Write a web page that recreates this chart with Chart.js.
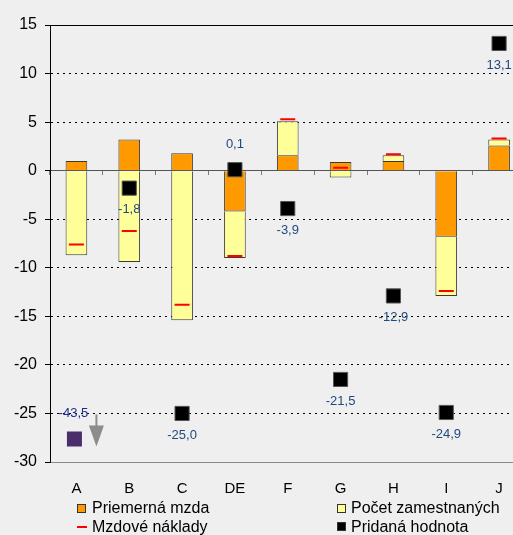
<!DOCTYPE html>
<html lang="sk">
<head>
<meta charset="utf-8">
<script src="https://cdn.jsdelivr.net/npm/chart.js@4/dist/chart.umd.min.js"></script>
<style>
  html, body { margin: 0; padding: 0; background: #efefef; overflow: hidden; }
  #wrap { position: relative; width: 513px; height: 535px; overflow: hidden; background: #efefef; }
  #chart { position: absolute; left: 0; top: 0; }
  .lg { position: absolute; font: 16px "Liberation Sans", Arial, sans-serif; color: #000; line-height: 18px; white-space: nowrap; }
  .sw { position: absolute; box-sizing: border-box; }
</style>
</head>
<body>
<div id="wrap">
  <canvas id="chart" width="540" height="535"></canvas>
  <div class="sw" style="left:77px;top:504px;width:9px;height:9px;background:#FF9900;border:1px solid #333;"></div>
  <div class="lg" style="left:92px;top:499px;">Priemerná mzda</div>
  <div class="sw" style="left:337px;top:504px;width:9px;height:9px;background:#FFFF99;border:1px solid #333;"></div>
  <div class="lg" style="left:351px;top:499px;">Počet zamestnaných</div>
  <div class="sw" style="left:77px;top:526px;width:10px;height:2px;background:#FF0000;"></div>
  <div class="lg" style="left:92px;top:517.5px;">Mzdové náklady</div>
  <div class="sw" style="left:337px;top:522px;width:9px;height:9px;background:#000;border:1px solid #333;"></div>
  <div class="lg" style="left:351px;top:517.5px;">Pridaná hodnota</div>
</div>
<script>
// Odvetvia (sections)
const categories = ['A', 'B', 'C', 'DE', 'F', 'G', 'H', 'I', 'J'];

// Contributions (percentage points)
const priemernaMzda     = [1.0, 3.2, 1.8, -4.2, 1.6, 0.9, 1.0, -6.8, 2.6];
const pocetZamestnanych = [-8.7, -9.4, -15.4, -4.8, 3.5, -0.7, 0.6, -6.1, 0.6];

// Year-on-year changes (%)
const mzdoveNaklady   = [-7.6, -6.2, -13.8, -8.8, 5.3, 0.3, 1.7, -12.4, 3.3];
const pridanaHodnota  = [-43.5, -1.8, -25.0, 0.1, -3.9, -21.5, -12.9, -24.9, 13.1];

// Value-axis range
const yMin = -30;
const yMax = 15;
const yStep = 5;

// Sections whose value label sits above the marker
const labelsAbove = ['DE'];

const FONT = '"Liberation Sans", Arial, sans-serif';
const fmt = v => v.toFixed(1).replace('.', ',');

// Value labels for the added-value markers, plus an indicator for values below the axis
const valueLabels = {
  id: 'valueLabels',
  afterDatasetsDraw(chart) {
    const meta = chart.getDatasetMeta(3);
    const y = chart.scales.y;
    const ctx = chart.ctx;
    ctx.save();
    ctx.textAlign = 'center';
    ctx.textBaseline = 'middle';
    ctx.font = '13px ' + FONT;
    meta.data.forEach((pt, i) => {
      const v = pridanaHodnota[i];
      const x = pt.x;
      if (v < y.min) {
        const b = y.bottom;
        // marker held at the bottom of the axis
        ctx.fillStyle = '#4B2D6B';
        ctx.fillRect(x - 9.5, b - 30.5, 15, 15);
        // arrow pointing down
        ctx.fillStyle = '#8c8c8c';
        ctx.fillRect(x + 19, b - 47.5, 2, 12);
        ctx.beginPath();
        ctx.moveTo(x + 12.5, b - 36.5);
        ctx.lineTo(x + 27.5, b - 36.5);
        ctx.lineTo(x + 20, b - 15.5);
        ctx.closePath();
        ctx.fill();
        ctx.fillStyle = '#1E2A8E';
        ctx.fillText(fmt(v), x - 3, b - 48.5);
      } else {
        const above = labelsAbove.includes(categories[i]);
        ctx.fillStyle = '#1F497D';
        ctx.fillText(fmt(v), x, above ? pt.y - 25.5 : pt.y + 21.5);
      }
    });
    ctx.restore();
  }
};

new Chart(document.getElementById('chart'), {
  type: 'bar',
  data: {
    labels: categories,
    datasets: [
      {
        label: 'Priemerná mzda',
        data: priemernaMzda,
        backgroundColor: '#FF9900',
        borderColor: '#3a3a3a',
        borderWidth: 1,
        stack: 's',
        order: 2,
        categoryPercentage: 0.41,
        barPercentage: 1
      },
      {
        label: 'Počet zamestnaných',
        data: pocetZamestnanych,
        backgroundColor: '#FFFF99',
        borderColor: '#3a3a3a',
        borderWidth: 1,
        stack: 's',
        order: 2,
        categoryPercentage: 0.41,
        barPercentage: 1
      },
      {
        type: 'line',
        label: 'Mzdové náklady',
        data: mzdoveNaklady,
        showLine: false,
        pointStyle: 'line',
        pointRadius: 7.5,
        pointHoverRadius: 7.5,
        borderColor: '#FF0000',
        pointBorderColor: '#FF0000',
        pointBorderWidth: 2,
        order: 1
      },
      {
        type: 'line',
        label: 'Pridaná hodnota',
        data: pridanaHodnota,
        showLine: false,
        pointStyle: 'rect',
        pointRadius: 10,
        pointHoverRadius: 10,
        pointBackgroundColor: '#000000',
        pointBorderColor: '#555555',
        pointBorderWidth: 1,
        order: 0
      }
    ]
  },
  options: {
    responsive: false,
    animation: false,
    events: [],
    layout: { padding: { top: 25, right: 14.5, bottom: 0, left: 0 } },
    plugins: {
      legend: { display: false },
      tooltip: { enabled: false }
    },
    scales: {
      x: {
        type: 'category',
        position: 'bottom',
        grid: { display: false, drawTicks: false },
        border: { display: true, color: '#8a8a8a', width: 1 },
        ticks: { color: '#000', font: { family: FONT, size: 15 }, padding: 18, maxRotation: 0, autoSkip: false },
        afterFit(scale) { scale.height = 73; }
      },
      x0: {
        type: 'category',
        position: { y: 0 },
        grid: { offset: true, drawOnChartArea: false, drawTicks: true, tickLength: 4, tickColor: '#7a7a7a', tickWidth: 1 },
        border: { display: true, color: '#555555', width: 1 },
        ticks: { display: false }
      },
      y: {
        type: 'linear',
        position: 'left',
        min: yMin,
        max: yMax,
        ticks: { stepSize: yStep, color: '#000', font: { family: FONT, size: 16 }, padding: 8 },
        grid: {
          color: c => (c.tick && c.tick.value === 0) ? '#555555' : '#000000',
          lineWidth: 1,
          drawTicks: true,
          tickLength: 5,
          tickColor: '#000000',
          tickWidth: 1,
          tickBorderDash: []
        },
        border: {
          display: true,
          color: '#000000',
          width: 1,
          dash: c => (c.tick && (c.tick.value === 0 || c.tick.value === yMax)) ? [] : [2, 4]
        },
        afterFit(scale) { scale.width = 50; }
      }
    }
  },
  plugins: [valueLabels]
});
</script>
</body>
</html>
